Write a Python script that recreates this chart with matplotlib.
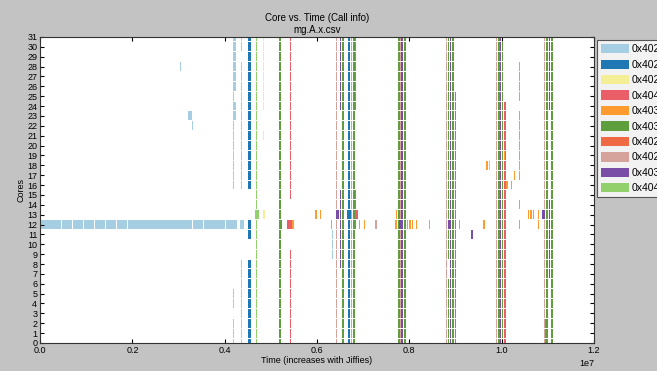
import matplotlib
matplotlib.use("Agg")
import matplotlib.pyplot as plt
from matplotlib.patches import Patch

plt.rcParams['font.family'] = ['Liberation Sans', 'DejaVu Sans']

# ---------------- data ----------------
cat_labels = ['0x402a10', '0x402b58', '0x402c44', '0x404e20', '0x403d90',
              '0x403a1c', '0x402f08', '0x402e6c', '0x403b74', '0x404f3c']
cat_colors = ['#a6cee3', '#1f78b4', '#f4ef94', '#ea5f67', '#ff9a2e',
              '#5f9e3c', '#ee6a45', '#d6a39c', '#7a4ea6', '#92d06c']

# long run on core 12 (times in units of 1e6 jiffies)
run12_start = [0.00, 0.24, 0.47, 0.71, 0.95, 1.18, 1.42, 1.66, 1.90, 2.13,
               2.37, 2.60, 2.84, 3.08, 3.31, 3.55, 3.79, 4.02]
run12_width = [0.23, 0.22, 0.23, 0.23, 0.22, 0.23, 0.23, 0.23, 0.22, 0.23,
               0.22, 0.23, 0.23, 0.22, 0.23, 0.23, 0.22, 0.24]

# vertical stripes: time, width, category, core ranges
stripe_time = [4.17, 4.18, 4.35, 4.51, 4.68, 4.83, 5.18, 5.41,
               6.41, 6.50, 6.55, 6.67, 6.73, 6.79, 6.82,
               7.76, 7.80, 7.83, 7.88,
               8.79, 8.83, 8.88, 8.92, 8.99,
               9.88, 9.92, 9.96, 10.00, 10.06, 10.37,
               10.92, 10.95, 10.97, 11.02, 11.07]
stripe_width = [0.08, 0.03, 0.03, 0.05, 0.03, 0.03, 0.04, 0.03,
                0.03, 0.03, 0.04, 0.04, 0.03, 0.04, 0.03,
                0.04, 0.02, 0.03, 0.04,
                0.03, 0.04, 0.03, 0.04, 0.03,
                0.03, 0.04, 0.03, 0.04, 0.03, 0.03,
                0.03, 0.02, 0.04, 0.03, 0.04]
stripe_cat = [0, 0, 0, 1, 9, 2, 5, 3,
              7, 8, 5, 1, 9, 5, 3,
              5, 7, 8, 5,
              7, 5, 8, 5, 3,
              7, 5, 8, 5, 3, 4,
              7, 3, 5, 8, 5]
stripe_cores = [
    [(29, 31), (26, 28), (23, 24)],
    [(25, 25), (21, 22), (16, 20), (4, 5), (0, 2)],
    [(30, 31), (16, 28), (12, 12), (0, 8)],
    [(16, 31), (11, 12), (0, 8)],
    [(0, 31)],
    [(24, 31), (21, 21), (13, 13)],
    [(0, 31)],
    [(15, 31), (12, 12), (0, 9)],
    [(0, 31)],
    [(24, 31), (8, 15)],
    [(0, 31)],
    [(0, 31)],
    [(0, 31)],
    [(0, 31)],
    [(24, 31), (12, 15)],
    [(0, 31)],
    [(0, 31)],
    [(0, 31)],
    [(0, 31)],
    [(0, 31)],
    [(9, 31), (0, 6)],
    [(0, 31)],
    [(0, 31)],
    [(0, 25)],
    [(0, 31)],
    [(0, 31)],
    [(0, 31)],
    [(0, 31)],
    [(0, 24)],
    [(27, 28), (25, 26), (17, 23), (14, 14), (12, 12)],
    [(0, 31)],
    [(0, 2)],
    [(0, 31)],
    [(24, 31), (7, 14)],
    [(0, 31)],
]

# short single-core events
ev_time = [3.03, 3.20, 3.29, 4.34, 4.50, 4.50, 4.66, 4.82, 5.17,
           5.35, 5.40, 5.46, 5.96, 6.06, 6.30, 6.32, 6.32, 6.32,
           6.41, 6.66, 6.84, 6.91, 7.02, 7.26, 7.71,
           7.69, 7.78, 7.94, 8.00, 8.06, 8.14, 8.42,
           8.84, 9.07, 9.33, 9.60,
           9.67, 9.72, 10.05, 10.10, 10.20, 10.27,
           10.57, 10.62, 10.68, 10.78, 10.78, 10.88, 10.96, 11.09]
ev_width = [0.02, 0.10, 0.03, 0.08, 0.08, 0.04, 0.08, 0.06, 0.07,
            0.05, 0.05, 0.05, 0.03, 0.03, 0.03, 0.02, 0.02, 0.02,
            0.06, 0.08, 0.05, 0.03, 0.03, 0.03, 0.03,
            0.04, 0.08, 0.03, 0.03, 0.03, 0.03, 0.03,
            0.05, 0.03, 0.05, 0.03,
            0.03, 0.03, 0.03, 0.03, 0.03, 0.03,
            0.03, 0.03, 0.03, 0.03, 0.03, 0.05, 0.05, 0.03]
ev_core = [28, 23, 22, 12, 12, 11, 13, 13, 12,
           12, 12, 12, 13, 13, 12, 11, 10, 9,
           13, 13, 13, 12, 12, 12, 13,
           12, 12, 12, 12, 12, 12, 12,
           12, 12, 11, 12,
           18, 18, 19, 16, 16, 17,
           13, 13, 13, 13, 12, 13, 13, 13]
ev_cat = [0, 0, 0, 0, 1, 1, 9, 2, 5,
          3, 3, 4, 4, 4, 4, 0, 0, 0,
          8, 1, 3, 4, 4, 7, 4,
          4, 8, 4, 4, 4, 4, 7,
          8, 4, 8, 4,
          4, 0, 4, 4, 4, 4,
          4, 4, 4, 4, 4, 8, 0, 4]

# ---------------- plot ----------------
fig = plt.figure(figsize=(6.57, 3.71), dpi=100, facecolor='#c3c3c3')
ax = fig.add_axes([0.061, 0.0755, 0.843, 0.825])
ax.set_facecolor('white')

bars = {c: ([], [], []) for c in range(len(cat_labels))}

def add(cat, core, left, width):
    bars[cat][0].append(core)
    bars[cat][1].append(left * 1e6)
    bars[cat][2].append(width * 1e6)

for s, w in zip(run12_start, run12_width):
    add(0, 12, s, w)
for t, w, c, spans in zip(stripe_time, stripe_width, stripe_cat, stripe_cores):
    for lo, hi in spans:
        for core in range(lo, hi + 1):
            add(c, core, t, w)
for t, w, core, c in zip(ev_time, ev_width, ev_core, ev_cat):
    add(c, core, t, w)

for c, (ys, lefts, widths) in bars.items():
    if ys:
        ax.barh(ys, widths, left=lefts, height=0.9, color=cat_colors[c],
                edgecolor='none', linewidth=0)

ax.set_xlim(0, 1.2e7)
ax.set_ylim(0, 31)
ax.set_yticks(range(0, 32))
ax.set_xticks([0, 0.2e7, 0.4e7, 0.6e7, 0.8e7, 1.0e7, 1.2e7])
ax.tick_params(direction='in', labelsize=6.5, length=3, top=True, right=True,
               pad=2)
ax.ticklabel_format(axis='x', style='sci', scilimits=(0, 0))
ax.xaxis.get_offset_text().set_fontsize(6.5)
ax.set_xlabel('Time (increases with Jiffies)', fontsize=6.5, labelpad=1)
ax.set_ylabel('Cores', fontsize=6.5, labelpad=1)
ax.set_title('Core vs. Time (Call info)\nmg.A.x.csv', fontsize=7, pad=3,
             linespacing=1.2)
for sp in ax.spines.values():
    sp.set_color('#333333')

handles = [Patch(facecolor=col, edgecolor='none') for col in cat_colors]
leg = ax.legend(handles, cat_labels, loc='upper left',
                bbox_to_anchor=(1.006, 0.99), fontsize=7.5, frameon=True,
                fancybox=False, edgecolor='#333333', handlelength=2.6,
                handleheight=1.0, labelspacing=0.5, borderpad=0.4,
                handletextpad=0.3, borderaxespad=0)
leg.get_frame().set_linewidth(0.8)

fig.savefig('out.png', dpi=100, facecolor=fig.get_facecolor())
